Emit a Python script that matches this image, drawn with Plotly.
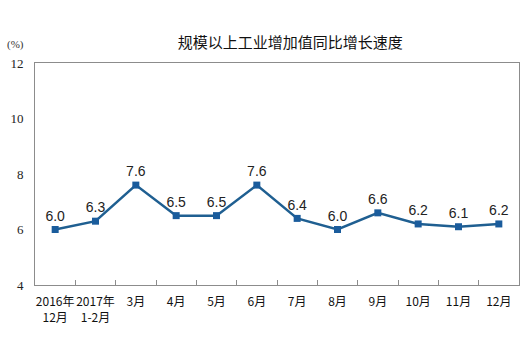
import plotly.graph_objects as go

# Monthly year-on-year growth of industrial value added (%)
categories = ["2016年<br>12月", "2017年<br>1-2月", "3月", "4月", "5月", "6月",
              "7月", "8月", "9月", "10月", "11月", "12月"]
growth = [6.0, 6.3, 7.6, 6.5, 6.5, 7.6, 6.4, 6.0, 6.6, 6.2, 6.1, 6.2]
y_ticks = [4, 6, 8, 10, 12]

fig = go.Figure()
fig.add_trace(go.Scatter(
    x=categories,
    y=growth,
    mode="lines+markers+text",
    line=dict(color="#1f5f91", width=2.5),
    marker=dict(symbol="square", size=7, color="#1a5c9c"),
    text=[f"{v:.1f}" for v in growth],
    textposition="top center",
    textfont=dict(family="Liberation Sans, Arial", size=14, color="#222222"),
    cliponaxis=False,
    hoverinfo="skip",
))

fig.update_layout(
    width=523,
    height=339,
    margin=dict(l=35, r=4, t=63, b=54),
    paper_bgcolor="white",
    plot_bgcolor="white",
    showlegend=False,
    title=dict(
        text="规模以上工业增加值同比增长速度",
        x=0.555, xanchor="center",
        y=0.875, yanchor="middle",
        font=dict(family="Noto Sans CJK SC", size=15, color="#111111"),
    ),
    annotations=[dict(
        text="(%)", xref="paper", yref="paper", x=-0.04, y=1.085,
        xanchor="center", yanchor="middle", showarrow=False,
        font=dict(family="Liberation Serif, Times New Roman", size=11, color="#333333"),
    )],
)

fig.update_xaxes(
    type="category",
    range=[-0.5, len(categories) - 0.5],
    showline=True, linecolor="#8c8c8c", linewidth=1, mirror=True,
    ticks="inside", tickson="boundaries", ticklen=5, tickcolor="#8c8c8c",
    showgrid=False, tickangle=0, ticklabelstandoff=6,
    tickfont=dict(family="Noto Sans CJK SC", size=12, color="#111111"),
)
fig.update_yaxes(
    range=[4, 12],
    tickvals=y_ticks,
    showline=True, linecolor="#8c8c8c", linewidth=1, mirror=True,
    showgrid=False, zeroline=False,
    ticks="", ticklabelstandoff=8,
    tickfont=dict(family="Liberation Serif, Times New Roman", size=13, color="#222222"),
)

fig.write_html("out.html")
